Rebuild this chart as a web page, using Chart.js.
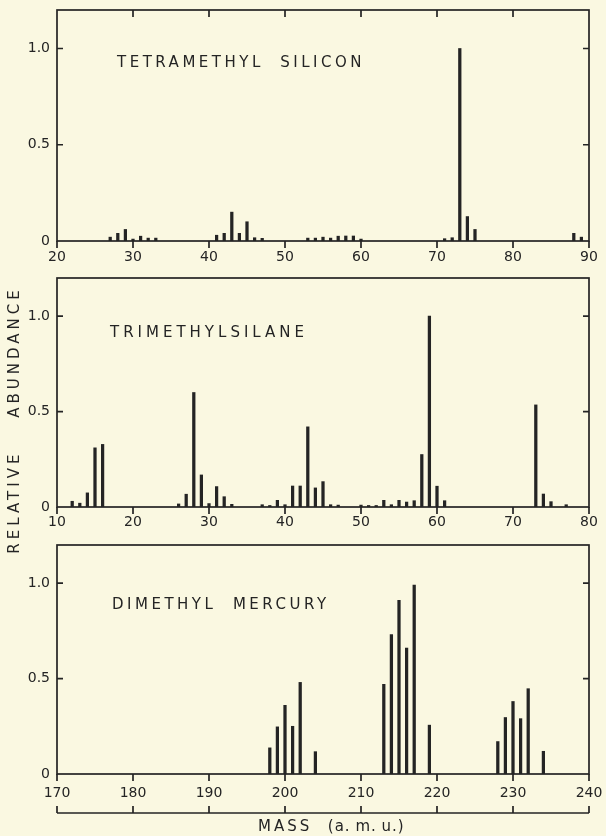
<!DOCTYPE html>
<html>
<head>
<meta charset="utf-8">
<script src="https://cdn.jsdelivr.net/npm/chart.js@4"></script>
<style>
  html, body { margin: 0; padding: 0; background: #faf8e1; }
  #wrap { position: relative; width: 606px; height: 836px; overflow: hidden; font-family: "DejaVu Sans", sans-serif; color: #242424; }
  canvas { position: absolute; left: 0; }
  .lbl { position: absolute; font-size: 15px; letter-spacing: 3.5px; white-space: pre; line-height: 18px; }
</style>
</head>
<body>
<div id="wrap">
  <canvas id="c1" width="606" height="270" style="top:0px"></canvas>
  <canvas id="c2" width="606" height="268" style="top:270px"></canvas>
  <canvas id="c3" width="606" height="298" style="top:538px"></canvas>
  <div class="lbl" style="left:117px; top:53px;">TETRAMETHYL  SILICON</div>
  <div class="lbl" style="left:110px; top:323px; letter-spacing:4px;">TRIMETHYLSILANE</div>
  <div class="lbl" style="left:112px; top:595px;">DIMETHYL  MERCURY</div>
  <div class="lbl" style="left:-136px; top:411px; width:300px; text-align:center; transform:rotate(-90deg); letter-spacing:4px; word-spacing:24px;">RELATIVE ABUNDANCE</div>
  <div class="lbl" style="left:258px; top:817px; letter-spacing:3px;">MASS  <span style="letter-spacing:1px; word-spacing:-1px;">(a. m. u.)</span></div>
</div>
<script>
// tetramethyl silicon
const tmsMass = [27, 28, 29, 30, 31, 32, 33, 41, 42, 43, 44, 45, 46, 47, 53, 54, 55, 56, 57, 58, 59, 60, 71, 72, 73, 74, 75, 88, 89];
const tmsAbund = [0.02, 0.04, 0.06, 0.01, 0.025, 0.015, 0.015, 0.03, 0.04, 0.15, 0.04, 0.10, 0.017, 0.014, 0.015, 0.015, 0.02, 0.015, 0.025, 0.026, 0.026, 0.01, 0.012, 0.017, 1.0, 0.127, 0.06, 0.04, 0.02];

// trimethylsilane
const tmsiMass = [12, 13, 14, 15, 16, 26, 27, 28, 29, 30, 31, 32, 33, 37, 38, 39, 40, 41, 42, 43, 44, 45, 46, 47, 50, 51, 52, 53, 54, 55, 56, 57, 58, 59, 60, 61, 73, 74, 75, 77];
const tmsiAbund = [0.03, 0.02, 0.074, 0.31, 0.328, 0.016, 0.067, 0.6, 0.168, 0.018, 0.107, 0.054, 0.014, 0.012, 0.008, 0.035, 0.012, 0.11, 0.11, 0.42, 0.10, 0.133, 0.012, 0.01, 0.01, 0.008, 0.008, 0.035, 0.012, 0.035, 0.026, 0.033, 0.275, 1.0, 0.109, 0.033, 0.535, 0.068, 0.028, 0.012];

// dimethyl mercury
const dmhMass = [198, 199, 200, 201, 202, 204, 213, 214, 215, 216, 217, 219, 228, 229, 230, 231, 232, 234];
const dmhAbund = [0.137, 0.247, 0.36, 0.25, 0.48, 0.117, 0.47, 0.73, 0.91, 0.66, 0.99, 0.256, 0.17, 0.296, 0.38, 0.29, 0.447, 0.119];

const yTicks = [0, 0.5, 1.0];
const INK = "#242424";

// box, inward ticks and optional extra axis
const framePlugin = {
  id: "frame",
  afterDraw(chart, args, opts) {
    const { ctx, chartArea: a, scales } = chart;
    const xs = scales.x, ys = scales.y;
    ctx.save();
    ctx.strokeStyle = INK;
    ctx.lineWidth = 1.7;
    ctx.strokeRect(a.left, a.top, a.right - a.left, a.bottom - a.top);
    ctx.beginPath();
    yTicks.forEach(v => {
      if (v === 0) return;
      const y = ys.getPixelForValue(v);
      ctx.moveTo(a.left, y); ctx.lineTo(a.left + 6, y);
      ctx.moveTo(a.right, y); ctx.lineTo(a.right - 6, y);
    });
    for (let v = xs.min; v <= xs.max; v += 10) {
      const x = xs.getPixelForValue(v);
      ctx.moveTo(x, a.bottom); ctx.lineTo(x, a.bottom + 7);
      if (opts.topTicks && v > xs.min && v < xs.max) {
        ctx.moveTo(x, a.top); ctx.lineTo(x, a.top + 7);
      }
    }
    if (opts.extraAxis) {
      const yb = a.bottom + opts.extraAxis;
      ctx.moveTo(a.left, yb); ctx.lineTo(a.right, yb);
      for (let v = xs.min; v <= xs.max; v += 10) {
        const x = xs.getPixelForValue(v);
        ctx.moveTo(x, yb); ctx.lineTo(x, yb - 7);
      }
    }
    ctx.stroke();
    ctx.restore();
  }
};

function makeChart(id, mass, abund, xmin, xmax, padTop, xAxisH, labelPad, frameOpts) {
  const ctx = document.getElementById(id);
  return new Chart(ctx, {
    type: "bar",
    data: {
      datasets: [{
        data: mass.map((m, i) => ({ x: m, y: abund[i] })),
        backgroundColor: INK,
        borderWidth: 0,
        barThickness: 2.6
      }]
    },
    options: {
      responsive: false,
      animation: false,
      layout: { padding: { top: padTop, right: 17, left: 0, bottom: 0 } },
      plugins: { legend: { display: false }, tooltip: { enabled: false }, frame: frameOpts },
      scales: {
        x: {
          type: "linear",
          min: xmin,
          max: xmax,
          offset: false,
          grid: { display: false, drawTicks: false },
          border: { display: false },
          ticks: {
            stepSize: 10,
            padding: labelPad,
            color: INK,
            font: { family: "DejaVu Sans", size: 14 },
            maxRotation: 0,
            autoSkip: false
          },
          afterFit: s => { s.height = xAxisH; s.paddingLeft = 0; s.paddingRight = 0; }
        },
        y: {
          min: 0,
          max: 1.2,
          grid: { display: false, drawTicks: false },
          border: { display: false },
          afterBuildTicks: s => { s.ticks = yTicks.map(v => ({ value: v })); },
          ticks: {
            padding: 7,
            color: INK,
            font: { family: "DejaVu Sans", size: 14 },
            callback: v => v === 0 ? "0" : v.toFixed(1)
          },
          afterFit: s => { s.width = 57; s.paddingTop = 0; s.paddingBottom = 0; }
        }
      }
    },
    plugins: [framePlugin]
  });
}

makeChart("c1", tmsMass, tmsAbund, 20, 90, 10, 29, 8, { topTicks: true });
makeChart("c2", tmsiMass, tmsiAbund, 10, 80, 8, 31, 7, {});
makeChart("c3", dmhMass, dmhAbund, 170, 240, 7, 62, 11, { extraAxis: 39 });
</script>
</body>
</html>
